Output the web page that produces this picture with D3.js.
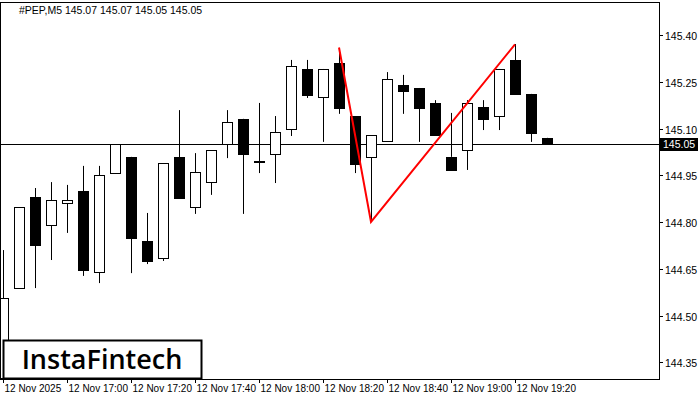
<!DOCTYPE html>
<html><head><meta charset="utf-8">
<script src="https://cdn.jsdelivr.net/npm/d3@7"></script>
<style>body{margin:0;background:#fff}svg{display:block;font-family:"Liberation Sans",Arial,sans-serif}</style>
</head><body><svg id="c" width="700" height="400"></svg>
<script>
// M5 candles
var opens  = [144.30,144.588,144.880,144.790,144.861,144.900,144.640,144.957,145.009,144.739,144.685,145.009,144.848,144.928,145.050,145.131,144.996,145.018,145.098,145.291,145.201,145.310,145.140,145.009,145.060,145.240,145.230,145.182,145.009,145.031,145.169,145.140,145.320,145.211,145.070];
var highs  = [144.710,144.848,144.909,144.928,144.919,144.980,144.980,145.050,145.009,144.829,144.989,145.159,145.021,145.031,145.159,145.131,145.182,145.140,145.320,145.320,145.291,145.358,145.140,145.079,145.281,145.272,145.230,145.191,145.150,145.191,145.191,145.291,145.371,145.211,145.070];
var lows   = [144.30,144.588,144.588,144.678,144.765,144.627,144.604,144.957,144.636,144.665,144.675,144.877,144.826,144.887,145.005,144.826,144.957,144.925,145.076,145.198,145.057,145.147,144.957,144.800,145.060,145.147,145.057,145.076,145.009,144.967,145.095,145.095,145.208,145.057,145.050];
var closes = [144.556,144.848,144.726,144.871,144.871,144.646,144.951,145.050,144.749,144.675,144.989,144.877,144.961,145.031,145.121,145.018,144.996,145.089,145.301,145.208,145.291,145.166,144.986,145.079,145.259,145.220,145.166,145.079,144.967,145.182,145.131,145.291,145.211,145.086,145.050];
var priceTicks = [145.40,145.25,145.10,144.95,144.80,144.65,144.50,144.35];
var timeLabels = ["12 Nov 2025","12 Nov 17:00","12 Nov 17:20","12 Nov 17:40","12 Nov 18:00","12 Nov 18:20","12 Nov 18:40","12 Nov 19:00","12 Nov 19:20"];
var timeIdx = [0,4,8,12,16,20,24,28,32];
var patIdx = [21,23,32];
var patVal = [145.36,144.80,145.37];
var last = 145.05;

var svg = d3.select("#c");
var x = d3.scaleLinear().domain([0,40]).range([3,643]);
var y = d3.scaleLinear().domain([144.80,145.40]).range([222,35]);
var right = 659, bottom = 379;

svg.append("defs").append("clipPath").attr("id","pa").append("rect")
  .attr("x",1).attr("y",2).attr("width",right-1).attr("height",bottom-2);
var g = svg.append("g").attr("clip-path","url(#pa)");

// last price line
g.append("line").attr("x1",0).attr("x2",right).attr("y1",Math.round(y(last))+0.5).attr("y2",Math.round(y(last))+0.5)
  .attr("stroke","#000");

opens.forEach(function(o,i){
  var cx = Math.round(x(i))+0.5, c = closes[i];
  var top = y(Math.max(o,c)), bot = y(Math.min(o,c));
  var up = c >= o;
  g.append("line").attr("x1",cx).attr("x2",cx).attr("y1",y(highs[i])).attr("y2",y(lows[i])).attr("stroke","#000");
  g.append("rect").attr("x",cx-5).attr("y",Math.round(top)+0.5).attr("width",10)
    .attr("height",Math.max(1,Math.round(bot-top)))
    .attr("fill",up?"#fff":"#000").attr("stroke","#000");
});

// pattern line
g.append("path").attr("d",d3.line().x(function(d){return x(d[0]);}).y(function(d){return y(d[1]);})(d3.zip(patIdx,patVal)))
  .attr("fill","none").attr("stroke","#ff0000").attr("stroke-width",2);

// frame
svg.append("rect").attr("x",0.5).attr("y",2.5).attr("width",right).attr("height",bottom-2)
  .attr("fill","none").attr("stroke","#000");

// price axis
priceTicks.forEach(function(p){
  var yy = Math.round(y(p))+0.5;
  svg.append("line").attr("x1",right).attr("x2",right+4).attr("y1",yy).attr("y2",yy).attr("stroke","#000");
  svg.append("text").attr("x",665).attr("y",yy+4).attr("font-size",10.5).text(p.toFixed(2));
});
var ly = Math.round(y(last));
svg.append("rect").attr("x",right+1).attr("y",ly-6).attr("width",38).attr("height",13).attr("fill","#000");
svg.append("text").attr("x",663).attr("y",ly+4).attr("font-size",10.5).attr("fill","#fff").text(last.toFixed(2));

// time axis
timeIdx.forEach(function(t,k){
  var xx = Math.round(x(t))+0.5;
  svg.append("line").attr("x1",xx).attr("x2",xx).attr("y1",bottom).attr("y2",bottom+4).attr("stroke","#000");
  svg.append("text").attr("x",xx+1).attr("y",392).attr("font-size",10).text(timeLabels[k]);
});

svg.append("text").attr("x",19).attr("y",14).attr("font-size",10.5).text("#PEP,M5  145.07 145.07 145.05 145.05");

// logo
svg.append("rect").attr("x",3.5).attr("y",340.5).attr("width",198).attr("height",38).attr("fill","#fff").attr("stroke","#000").attr("stroke-width",2);
svg.append("text").attr("x",102).attr("y",369).attr("text-anchor","middle").attr("font-size",27).attr("font-weight",600).attr("font-family","'Open Sans',sans-serif").text("InstaFintech");
</script></body></html>
